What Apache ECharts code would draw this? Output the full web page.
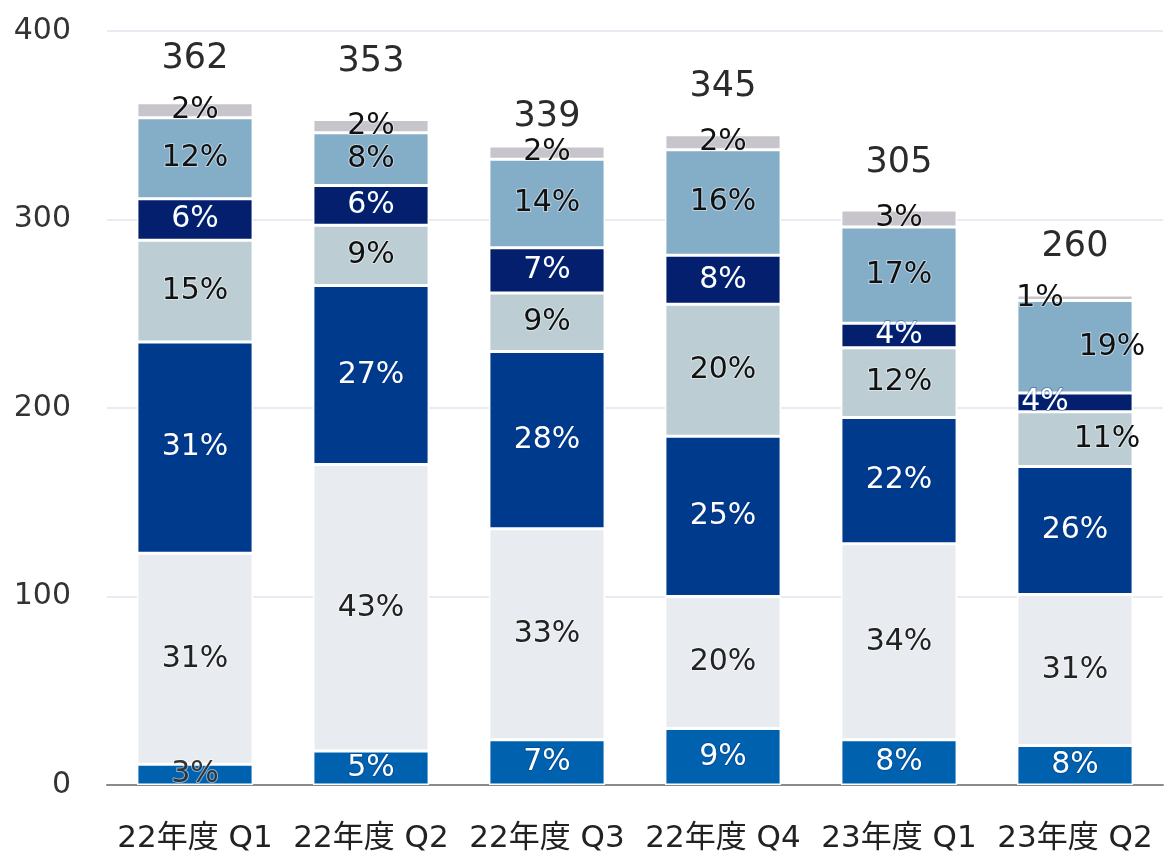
<!DOCTYPE html>
<html>
<head>
<meta charset="utf-8">
<script src="https://cdn.jsdelivr.net/npm/echarts@6/dist/echarts.min.js"></script>
<style>
  html, body { margin: 0; padding: 0; background: #fff; }
  #chart { width: 1164px; height: 854px; }
</style>
</head>
<body>
<div id="chart"></div>
<script>
const categories = ['22年度 Q1', '22年度 Q2', '22年度 Q3', '22年度 Q4', '23年度 Q1', '23年度 Q2']
const yTicks = [0, 100, 200, 300, 400]

// stacked segments, bottom to top
const seg1 = [11, 18, 24, 30, 24, 21]
const seg2 = [112, 152, 112, 70, 104, 80]
const seg3 = [112, 95, 94, 85, 67, 68]
const seg4 = [54, 32, 31, 70, 37, 29]
const seg5 = [22, 21, 24, 26, 13, 10]
const seg6 = [43, 28, 47, 56, 51, 49]
const seg7 = [8, 7, 7, 8, 9, 3]

const segments = [seg1, seg2, seg3, seg4, seg5, seg6, seg7]
const totals = categories.map((_, i) => segments.reduce((s, arr) => s + arr[i], 0))

const colors = ['#0062AF', '#E8ECF0', '#003A8C', '#BCCED4', '#031F6E', '#84ADC7', '#C7C4CB']
const labelColors = ['#fff', '#222', '#fff', '#111', '#fff', '#111', '#111']

// gap between bar top and total label, in px
const totalGap = [26, 40, 12, 30, 30, 30]

// individual label tweaks: [series, category] -> label options
const labelTweaks = {
  '0-0': { color: '#333', textBorderColor: 'rgba(255,255,255,0.5)' },
  '6-5': { offset: [-35, 0] },
  '5-5': { offset: [37, 0] },
  '4-5': { offset: [-30, 0] },
  '3-5': { offset: [32, 0] },
}

const FONT = '"DejaVu Sans", "Noto Sans CJK JP", sans-serif'

const barSeries = segments.map((arr, s) => ({
  type: 'bar',
  stack: 'total',
  barWidth: '66%',
  itemStyle: { color: colors[s], borderColor: '#fff', borderWidth: 1.5 },
  label: {
    show: true,
    position: 'inside',
    fontFamily: FONT,
    fontSize: 30,
    color: labelColors[s],
    textBorderColor: labelColors[s] === '#fff' ? 'rgba(0,50,130,0.35)' : 'rgba(255,255,255,0.45)',
    textBorderWidth: 2,
    formatter: (p) => Math.round((p.value / totals[p.dataIndex]) * 100) + '%',
  },
  data: arr.map((v, i) => {
    const tweak = labelTweaks[s + '-' + i]
    return tweak ? { value: v, label: tweak } : v
  }),
}))

const totalSeries = {
  type: 'scatter',
  symbolSize: 0,
  silent: true,
  z: 10,
  itemStyle: { opacity: 1 },
  data: totals.map((v, i) => ({
    value: v,
    label: { distance: totalGap[i] },
  })),
  label: {
    show: true,
    position: 'top',
    fontFamily: FONT,
    fontSize: 35,
    color: '#2b2b2b',
    formatter: (p) => p.value,
  },
}

const chart = echarts.init(document.getElementById('chart'))
chart.setOption({
  animation: false,
  grid: { left: 107, right: 1, top: 31, bottom: 69 },
  xAxis: {
    type: 'category',
    data: categories,
    axisLine: { lineStyle: { color: '#8a8a8a', width: 2 } },
    axisTick: { show: false },
    axisLabel: { interval: 0, fontFamily: FONT, fontSize: 31, color: '#222', margin: 38 },
  },
  yAxis: {
    type: 'value',
    min: yTicks[0],
    max: yTicks[yTicks.length - 1],
    interval: 100,
    axisLine: { show: false },
    axisTick: { show: false },
    splitLine: { lineStyle: { color: '#E8ECF2', width: 2 } },
    axisLabel: { fontFamily: FONT, fontSize: 30, color: '#333', margin: 36 },
  },
  series: [...barSeries, totalSeries],
})
</script>
</body>
</html>
